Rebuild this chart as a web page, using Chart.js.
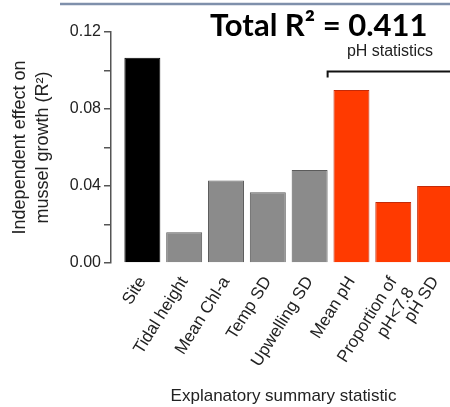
<!DOCTYPE html>
<html>
<head>
<meta charset="utf-8">
<script src="https://cdn.jsdelivr.net/npm/chart.js@4"></script>
<style>
    html, body { margin: 0; padding: 0; background: #fff; overflow: hidden; }
    #wrap { width: 456px; height: 407px; }
</style>
</head>
<body>
<div id="wrap"><canvas id="chart" width="456" height="407"></canvas></div>
<script>
const categories = ['Site', 'Tidal height', 'Mean Chl-a', 'Temp SD', 'Upwelling SD', 'Mean pH', ['Proportion of', 'pH<7.8'], 'pH SD'];
const effects = [0.1066, 0.0160, 0.0428, 0.0367, 0.0483, 0.0899, 0.0317, 0.0400];
const groups = ['site', 'env', 'env', 'env', 'env', 'ph', 'ph', 'ph'];
const yTicks = [0.00, 0.04, 0.08, 0.12];

const fill = { site: '#000000', env: '#8b8b8b', ph: '#ff3a00' };
const edge = { site: '#000000', env: '#5b5b5b', ph: '#c42a08' };
const FONT = '"Liberation Sans", Arial, sans-serif';

// title, top rule and the pH bracket
const annotations = {
    id: 'annotations',
    afterDraw(chart) {
        const { ctx, scales: { x, y } } = chart;
        ctx.save();

        ctx.strokeStyle = '#7f90ab';
        ctx.lineWidth = 2.5;
        ctx.beginPath();
        ctx.moveTo(60, 4);
        ctx.lineTo(chart.width, 4);
        ctx.stroke();

        ctx.fillStyle = '#000';
        ctx.font = 'bold 31px Lato, "Open Sans", sans-serif';
        ctx.textAlign = 'left';
        ctx.textBaseline = 'alphabetic';
        ctx.fillText('Total R² = 0.411', 210, 36);

        const bx = x.getPixelForValue(4.43);
        const by = y.getPixelForValue(0.0995);
        ctx.strokeStyle = '#111';
        ctx.lineWidth = 2;
        ctx.beginPath();
        ctx.moveTo(bx, by + 6);
        ctx.lineTo(bx, by);
        ctx.lineTo(chart.width, by);
        ctx.stroke();

        ctx.font = '16px ' + FONT;
        ctx.textAlign = 'center';
        ctx.textBaseline = 'middle';
        ctx.fillStyle = '#222';
        ctx.fillText('pH statistics', 390, 52);

        ctx.restore();
    }
};

new Chart(document.getElementById('chart'), {
    type: 'bar',
    data: {
        datasets: [{
            data: effects.map((v, i) => ({ x: i, y: v })),
            backgroundColor: groups.map(g => fill[g]),
            borderColor: groups.map(g => edge[g]),
            borderWidth: 1,
            barPercentage: 0.86,
            categoryPercentage: 1
        }]
    },
    options: {
        responsive: false,
        animation: false,
        layout: { padding: { top: 32, left: 0, right: 0, bottom: 0 } },
        plugins: {
            legend: { display: false },
            tooltip: { enabled: false }
        },
        scales: {
            x: {
                type: 'linear',
                min: -0.75,
                max: 7.5,
                offset: false,
                // one tick per category, nothing at the padded ends
                afterBuildTicks: (scale) => {
                    scale.ticks = categories.map((c, i) => ({ value: i }));
                },
                afterFit: (scale) => {
                    scale.height = 144;
                    scale.paddingLeft = 0;
                    scale.paddingRight = 0;
                },
                border: { display: false },
                grid: { display: false, drawTicks: false, offset: false },
                ticks: {
                    stepSize: 1,
                    autoSkip: false,
                    minRotation: 58,
                    maxRotation: 58,
                    padding: 10,
                    color: '#222',
                    font: { family: FONT, size: 17 },
                    callback: (v) => Number.isInteger(v) && categories[v] ? categories[v] : ''
                },
                title: {
                    display: true,
                    text: 'Explanatory summary statistic',
                    color: '#222',
                    font: { family: FONT, size: 17, lineHeight: 1.2 },
                    padding: { top: 0, bottom: 0 }
                }
            },
            y: {
                min: 0,
                max: 0.12,
                afterFit: (scale) => { scale.width = 111; },
                border: { display: true, color: '#555', width: 1.5 },
                grid: { drawOnChartArea: false, drawTicks: true, tickLength: 7, color: '#555', lineWidth: 1.5 },
                ticks: {
                    stepSize: 0.02,
                    padding: 3,
                    color: '#222',
                    font: { family: FONT, size: 16 },
                    callback: (v) => {
                        const hit = yTicks.find(t => Math.abs(t - v) < 1e-9);
                        return hit !== undefined ? hit.toFixed(2) : '';
                    }
                },
                title: {
                    display: true,
                    text: ['Independent effect on', 'mussel growth (R²)'],
                    color: '#222',
                    font: { family: FONT, size: 18, lineHeight: 1.3 },
                    padding: { top: 8, bottom: 0 }
                }
            }
        }
    },
    plugins: [annotations]
});
</script>
</body>
</html>
